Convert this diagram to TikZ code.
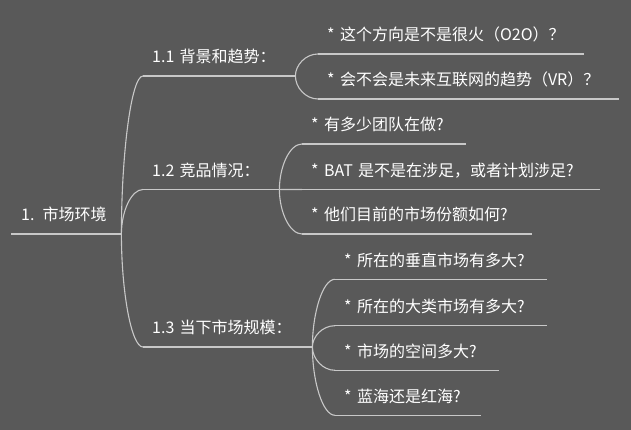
\documentclass[tikz,border=0pt]{standalone}
\usepackage{fontspec}
\setmainfont{Noto Sans CJK SC}
\usetikzlibrary{calc}

\begin{document}
\begin{tikzpicture}[x=1pt,y=1pt,
  topic/.style={anchor=south west, inner xsep=9pt, inner ysep=0pt,
    text height=12pt, text depth=13pt, align=left, text=white,
    font=\fontsize{16}{19}\selectfont},
  link/.style={draw=softgray, line width=1.1pt},
  branch/.style={to path={.. controls ($(\tikztostart)!.5!(\tikztostart|-\tikztotarget)$)
    and ($(\tikztostart|-\tikztotarget)!.45!(\tikztotarget)$) .. (\tikztotarget)}}]
  \definecolor{darkback}{RGB}{89,89,89}
  \definecolor{softgray}{RGB}{200,200,200}

  % Background
  \fill[darkback] (0,0) rectangle (631,430);
  \useasboundingbox (0,0) rectangle (631,430);

  % Root
  \node[topic, inner xsep=10pt, text width=90pt] (root) at (11,196) {1. 市场环境};

  % Level 1
  \node[topic, text width=134pt] (bg)   at (143,354)   {1.1 背景和趋势：};
  \node[topic, text width=118pt] (comp) at (143,240.5) {1.2 竞品情况：};
  \node[topic, text width=151pt] (size) at (143,83)    {1.3 当下市场规模：};

  % Leaves of 1.1
  \node[topic, text width=248pt] (bgA) at (318,376) {* 这个方向是不是很火（O2O）？};
  \node[topic, text width=283pt] (bgB) at (318,331) {* 会不会是未来互联网的趋势（VR）？};

  % Leaves of 1.2
  \node[topic, text width=146pt] (compA) at (302,286)   {* 有多少团队在做?};
  \node[topic, text width=280pt] (compB) at (302,240.5) {* BAT 是不是在涉足，或者计划涉足?};
  \node[topic, text width=212pt] (compC) at (302,196)   {* 他们目前的市场份额如何?};

  % Leaves of 1.3
  \node[topic, text width=194pt] (sizeA) at (335,150.7) {* 所在的垂直市场有多大?};
  \node[topic, text width=194pt] (sizeB) at (335,104.3) {* 所在的大类市场有多大?};
  \node[topic, text width=146pt] (sizeC) at (335,59.7)  {* 市场的空间多大?};
  \node[topic, text width=128pt] (sizeD) at (335,14.7)  {* 蓝海还是红海?};

  % Underlines
  \foreach \n in {root,bg,comp,size,bgA,bgB,compA,compB,compC,sizeA,sizeB,sizeC,sizeD}
    \draw[link] (\n.south west) -- (\n.south east);

  % Branches
  \foreach \n in {bg,comp,size}
    \draw[link] (root.south east) to[branch] (\n.south west);
  \foreach \n in {bgA,bgB}
    \draw[link] (bg.south east) to[branch] (\n.south west);
  \foreach \n in {compA,compB,compC}
    \draw[link] (comp.south east) to[branch] (\n.south west);
  \foreach \n in {sizeA,sizeB,sizeC,sizeD}
    \draw[link] (size.south east) to[branch] (\n.south west);
\end{tikzpicture}
\end{document}
